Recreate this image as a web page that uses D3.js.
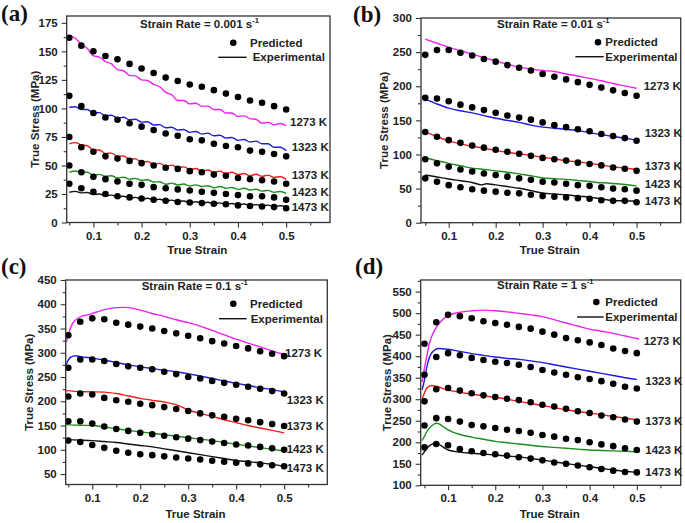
<!DOCTYPE html>
<html><head><meta charset="utf-8">
<script src="https://cdn.jsdelivr.net/npm/d3@7/dist/d3.min.js"></script>
<style>body{margin:0;background:#fff}svg{display:block}</style>
</head><body>
<svg id="chart" width="685" height="523"></svg>
<script>
// ---------------- DATA ----------------
const temps = ["1273 K","1323 K","1373 K","1423 K","1473 K"];
const strainRates = ["0.001","0.01","0.1","1"];
const predStrain = [0.05,0.075,0.1,0.125,0.15,0.175,0.2,0.225,0.25,0.275,0.3,0.325,0.35,0.375,0.4,0.425,0.45,0.475,0.5];
const xTickLabels = [0.1,0.2,0.3,0.4,0.5];

// (a) 0.001 s-1 predicted
const predA1273 = [162,155,150,146,143,139,135,131,127,124,121,119,116,113,110,107,105,102,99];
const predA1323 = [111,102,96,92,90,87,84,81,78,76,73,72,69,67,66,63,62,60,58];
const predA1373 = [75,66,62,58,56,54,52,50,48,47,45,44,42,41,39,38,37,36,34];
const predA1423 = [50,44,40,38,36,34,33,31,30,29,28,27,26,25,24,23,23,22,20];
const predA1473 = [34,30,27,25,23,22,21,20,19,18,17.5,17,16.5,16,15,14.5,14,13.5,12.5];
// (a) experimental (serrated)
const expA1273 = [[0.05,164],[0.0625,161.5],[0.075,156],[0.0875,152.5],[0.1,146],[0.1125,145],[0.125,141],[0.1375,139],[0.15,134],[0.1625,133],[0.175,129],[0.1875,128.5],[0.2,125],[0.2125,124.5],[0.225,121],[0.2375,119],[0.25,114],[0.2625,112],[0.275,107],[0.2875,107],[0.3,104],[0.3125,104.5],[0.325,102],[0.3375,102],[0.35,99],[0.3625,99],[0.375,96],[0.3875,96],[0.4,93],[0.4125,93.5],[0.425,91],[0.4375,90.5],[0.45,87],[0.4625,87.8],[0.475,85.5],[0.4875,86.8],[0.5,85]];
const expA1323 = [[0.05,101],[0.0625,101.5],[0.075,99],[0.0875,99],[0.1,96],[0.1125,96.3],[0.125,93.5],[0.1375,94],[0.15,91.5],[0.1625,92.3],[0.175,90],[0.1875,90.5],[0.2,88],[0.2125,88.3],[0.225,85.5],[0.2375,85.8],[0.25,83],[0.2625,83.5],[0.275,81],[0.2875,81.5],[0.3,79],[0.3125,79.8],[0.325,77.5],[0.3375,78.3],[0.35,76],[0.3625,76.5],[0.375,74],[0.3875,74.5],[0.4,72],[0.4125,72.8],[0.425,70.5],[0.4375,71.3],[0.45,69],[0.4625,69],[0.475,66],[0.4875,66],[0.5,63]];
const expA1373 = [[0.05,69],[0.0625,70],[0.075,68],[0.0875,67.3],[0.1,63.5],[0.1125,63.5],[0.125,60.5],[0.1375,60.8],[0.15,58],[0.1625,58.3],[0.175,55.5],[0.1875,55.8],[0.2,53],[0.2125,53.5],[0.225,51],[0.2375,51.8],[0.25,49.5],[0.2625,50.3],[0.275,48],[0.2875,48.8],[0.3,46.5],[0.3125,47.3],[0.325,45],[0.3375,46],[0.35,44],[0.3625,45],[0.375,43],[0.3875,44],[0.4,42],[0.4125,43],[0.425,41],[0.4375,42.3],[0.45,40.5],[0.4625,41.5],[0.475,39.5],[0.4875,40.3],[0.5,38]];
const expA1423 = [[0.05,44],[0.0625,45.2],[0.075,44],[0.0875,44],[0.1,41.5],[0.1125,42.2],[0.125,40.5],[0.1375,41],[0.15,39],[0.1625,39.7],[0.175,38],[0.1875,38.7],[0.2,37],[0.2125,37.5],[0.225,35.5],[0.2375,35.7],[0.25,33.5],[0.2625,34.5],[0.275,33],[0.2875,33.7],[0.3,32],[0.3125,33],[0.325,31.5],[0.3375,32.2],[0.35,30.5],[0.3625,31.5],[0.375,30],[0.3875,30.7],[0.4,29],[0.4125,30],[0.425,28.5],[0.4375,29.2],[0.45,27.5],[0.4625,28.2],[0.475,26.5],[0.4875,27.2],[0.5,25.5]];
const expA1473 = [[0.05,26.5],[0.0625,27.3],[0.075,26],[0.0875,26.3],[0.1,24.5],[0.1125,25],[0.125,23.5],[0.1375,24],[0.15,22.5],[0.1625,23],[0.175,21.5],[0.1875,22],[0.2,20.5],[0.2125,21.2],[0.225,19.8],[0.2375,20.4],[0.25,19],[0.2625,19.6],[0.275,18.3],[0.2875,18.9],[0.3,17.5],[0.3125,18.2],[0.325,17],[0.3375,17.7],[0.35,16.5],[0.3625,17.2],[0.375,16],[0.3875,16.7],[0.4,15.5],[0.4125,16.2],[0.425,15],[0.4375,15.7],[0.45,14.5],[0.4625,15.2],[0.475,14],[0.4875,14.7],[0.5,13.5]];

// (b) 0.01 s-1
const predB1273 = [246,253,253,249,245,240,236,231,227,223,218,214,210,206,202,198,194,190,186];
const predB1323 = [183,182,178,173,169,165,161,157,154,151,147,143,140,137,134,130,127,124,120];
const predB1373 = [133,126,121,117,113,110,107,104,101,98,95,93,91,88,86,84,81,79,76];
const predB1423 = [93,87,82,78,75,72,70,67.5,65,63,60,59,57,55,54,52,50,49,47];
const predB1473 = [65,60,55,52,49,47,45.5,44,43,41,39,38,37,36,35,33,32,32,30];
const expB1273 = [[0.05,269],[0.075,263],[0.1,257],[0.125,252],[0.15,247],[0.175,242],[0.2,237],[0.225,232],[0.25,228],[0.275,225],[0.3,223],[0.325,221.5],[0.35,218],[0.375,215],[0.4,211.5],[0.425,208],[0.45,204],[0.475,200.5],[0.5,197]];
const expB1323 = [[0.05,181],[0.075,174],[0.1,168],[0.125,164],[0.15,161],[0.175,157],[0.2,153],[0.225,150],[0.25,147],[0.275,143],[0.3,140],[0.325,138.5],[0.35,137],[0.375,135],[0.4,132],[0.425,129],[0.45,126.5],[0.475,124],[0.5,121]];
const expB1373 = [[0.05,133],[0.075,126],[0.1,120],[0.125,115.5],[0.15,112],[0.175,109],[0.2,106],[0.225,103],[0.25,101],[0.275,98.5],[0.3,96],[0.325,93.5],[0.35,91],[0.375,89],[0.4,87],[0.425,84.5],[0.45,82],[0.475,80],[0.5,78]];
const expB1423 = [[0.05,95],[0.075,91],[0.1,87],[0.125,83.5],[0.15,80],[0.175,78],[0.2,76],[0.225,74],[0.25,71.5],[0.275,69],[0.3,65.5],[0.325,64.5],[0.35,63.5],[0.375,62],[0.4,60.5],[0.42,58.5],[0.43,58.5],[0.45,57.5],[0.475,56],[0.5,54]];
const expB1473 = [[0.05,70],[0.075,67],[0.1,64],[0.125,61.5],[0.15,59],[0.17,55.5],[0.18,57],[0.2,55.5],[0.225,53],[0.25,50.5],[0.275,47],[0.3,43.5],[0.325,42],[0.35,41],[0.375,39],[0.4,37.5],[0.425,35],[0.45,32.5],[0.475,32],[0.5,31.5]];

// (c) 0.1 s-1
const predC1273 = [336,364,371,369,362,358,354,350,345,340,335,330,324,319,314,309,303,298,293];
const predC1323 = [269,286,286,283,277,272,269,266,261,256,250,247,242,238,234,230,226,221,216];
const predC1373 = [210,216,214,207,202,199,195,192,188,184,180,175,171,168,164,161,157,153,149];
const predC1423 = [159,159,154,148,143,139,135,132,129,126,123,120,117,114,111,109,106,103,100];
const predC1473 = [119,116,110,104,98,94,91,89,86.5,84,82,80,77.5,75.5,73.5,72,70,68,66];
const expC1273 = [[0.046,322],[0.05,337],[0.055,352],[0.06,362],[0.07,371],[0.08,376],[0.09,378],[0.1,381],[0.115,386],[0.125,389],[0.15,393],[0.165,393.5],[0.175,393],[0.2,388],[0.225,381],[0.25,375],[0.275,368],[0.3,362],[0.325,355],[0.35,346],[0.375,337],[0.4,328],[0.425,320],[0.45,312],[0.475,304],[0.5,296],[0.505,294]];
const expC1323 = [[0.045,275],[0.05,285],[0.055,291],[0.065,294],[0.075,292],[0.1,289],[0.125,285],[0.15,280],[0.175,275],[0.2,271],[0.225,267.5],[0.25,264],[0.275,261],[0.3,257],[0.325,252],[0.35,247],[0.375,242],[0.4,237],[0.425,232.5],[0.45,228],[0.475,224],[0.5,219.5]];
const expC1373 = [[0.045,222],[0.075,220],[0.1,219.5],[0.125,219],[0.15,216],[0.175,211],[0.2,206],[0.225,202],[0.25,198.5],[0.275,193],[0.3,182],[0.325,175],[0.35,169],[0.375,162],[0.4,156],[0.425,150],[0.45,145],[0.475,140],[0.5,135]];
const expC1423 = [[0.045,152],[0.075,150.5],[0.1,150],[0.125,147],[0.15,143.5],[0.175,140],[0.2,137],[0.225,134],[0.25,131],[0.275,128],[0.3,125],[0.325,122],[0.35,119],[0.375,115],[0.4,111.5],[0.425,108],[0.45,104.5],[0.475,101],[0.5,97.5]];
const expC1473 = [[0.045,121],[0.075,120],[0.1,119],[0.125,117],[0.15,115],[0.175,112],[0.2,109],[0.225,106],[0.25,102],[0.275,98],[0.3,94],[0.325,90],[0.35,86],[0.375,82],[0.4,78],[0.425,75.5],[0.45,73],[0.475,70],[0.5,66.5]];

// (d) 1 s-1
const predD1273 = [429,479,496,493,488,481,477,473,468,464,457,450,442,437,432,426,418,412,407];
const predD1323 = [357,398,407,402,396,391,387,384,380,375,368,362,357,351,347,342,336,329,325];
const predD1373 = [295,323,326,320,314,309,305,301,298,293,287,283,278,272,268,262,258,253,248];
const predD1423 = [239,256,254,248,240,237,233,229,226,222,217,213,208,205,200,195,191,186,182];
const predD1473 = [188,196,193,184,179,175,172,169,165,162,158,153,150,146,142,138,134,131,130];
const expD1273 = [[0.045,340],[0.05,373],[0.055,400],[0.06,428],[0.065,445],[0.075,467],[0.085,481],[0.1,494],[0.125,502],[0.15,505.5],[0.175,507],[0.2,505.5],[0.225,503],[0.25,499.5],[0.275,496],[0.3,492],[0.325,485],[0.35,477],[0.375,470],[0.4,463],[0.425,458],[0.45,453],[0.475,447],[0.5,441],[0.505,440]];
const expD1323 = [[0.045,322],[0.05,345],[0.055,375],[0.06,396],[0.065,407],[0.07,413],[0.08,418],[0.1,416],[0.125,411],[0.15,406],[0.175,402],[0.2,398],[0.225,395],[0.25,392.5],[0.275,389],[0.3,385],[0.325,380],[0.35,375],[0.375,370],[0.4,365],[0.425,360],[0.45,355],[0.475,350],[0.5,346]];
const expD1373 = [[0.045,300],[0.05,315],[0.055,326],[0.065,332],[0.075,330],[0.1,321],[0.125,316],[0.15,312],[0.175,308],[0.2,304.5],[0.225,300],[0.25,295],[0.275,290],[0.3,285.5],[0.325,280.5],[0.35,275.5],[0.375,271.5],[0.4,268],[0.425,264],[0.45,260],[0.475,256],[0.5,252.5],[0.505,252]];
const expD1423 = [[0.045,204],[0.05,214],[0.055,225],[0.065,238],[0.075,244],[0.08,243],[0.09,236],[0.1,229],[0.125,218],[0.15,212],[0.175,207],[0.2,202],[0.225,199],[0.25,196],[0.275,193],[0.3,190],[0.325,188],[0.35,186],[0.375,184],[0.4,182],[0.425,181],[0.45,180],[0.475,179],[0.5,178]];
const expD1473 = [[0.045,170],[0.05,178],[0.055,186],[0.065,195],[0.075,198],[0.085,192],[0.095,185],[0.1,182],[0.125,177],[0.15,174.5],[0.175,172.5],[0.2,170.5],[0.225,168],[0.25,166],[0.275,162.5],[0.3,158.5],[0.325,154.5],[0.35,150.5],[0.375,147],[0.4,143],[0.425,139.5],[0.45,135.5],[0.475,132.5],[0.5,130]];

// ---------------- LAYOUT / STYLE ----------------
const colors = ["#f020f0","#1c1ce0","#ee1c1c","#1e8c1e","#111111"];
const FONT = "'Liberation Sans', Arial, Helvetica, sans-serif";
const FS = 11.5;

const panels = [
  {letter:"(a)", rate:strainRates[0], box:[66.7,16,330,222.5], xd:[0.0446,0.591], yd:[0,181],
   yMajor:[0,25,50,75,100,125,150,175], yMinor:[12.5,37.5,62.5,87.5,112.5,137.5,162.5],
   pred:[predA1273,predA1323,predA1373,predA1423,predA1473], exp:[expA1273,expA1323,expA1373,expA1423,expA1473],
   letterPos:[1,21], titlePos:[140,28], legDot:[233.3,42.7], legText:250, legLine:[218.3,246.7,57.3], legText2:252.7,
   ylabX:35, xlabY:254,
   tLab:[[290,121.7],[291.7,146.7],[291.7,175],[291.7,191.7],[291.7,207.3]]},
  {letter:"(b)", rate:strainRates[1], box:[421,18,680.7,222.7], xd:[0.041,0.594], yd:[0,300],
   yMajor:[0,50,100,150,200,250,300], yMinor:[25,75,125,175,225,275],
   pred:[predB1273,predB1323,predB1373,predB1423,predB1473], exp:[expB1273,expB1323,expB1373,expB1423,expB1473],
   letterPos:[353,21.5], titlePos:[497,28], legDot:[598,42.3], legText:605.3, legLine:[575.3,603.7,56.7], legText2:605.3,
   ylabX:383.7, xlabY:254,
   tLab:[[643.7,86],[644.7,133.3],[644.7,165.7],[644.7,184],[644.7,201]]},
  {letter:"(c)", rate:strainRates[2], box:[65.7,280,327.3,484.5], xd:[0.0446,0.59], yd:[28.5,450],
   yMajor:[50,100,150,200,250,300,350,400,450], yMinor:[75,125,175,225,275,325,375,425],
   pred:[predC1273,predC1323,predC1373,predC1423,predC1473], exp:[expC1273,expC1323,expC1373,expC1423,expC1473],
   letterPos:[1,274], titlePos:[141.7,290], legDot:[233.3,303.7], legText:250, legLine:[219,246.7,318.7], legText2:250.7,
   ylabX:29.3, xlabY:518,
   tLab:[[285,352.7],[286.7,399.7],[286.7,426.3],[286.7,448.7],[286.7,467.7]]},
  {letter:"(d)", rate:strainRates[3], box:[420.7,280,680.7,485.3], xd:[0.042,0.593], yd:[100,577],
   yMajor:[100,150,200,250,300,350,400,450,500,550], yMinor:[125,175,225,275,325,375,425,475,525,575],
   pred:[predD1273,predD1323,predD1373,predD1423,predD1473], exp:[expD1273,expD1323,expD1373,expD1423,expD1473],
   letterPos:[355,274], titlePos:[497,289], legDot:[596.3,302], legText:605.3, legLine:[577,603.7,317], legText2:605.3,
   ylabX:387, xlabY:518,
   tLab:[[643.7,341],[645.3,381.3],[645.3,421.3],[645.3,450.3],[645.3,472]]}
];

const xMinor = [0.05,0.15,0.25,0.35,0.45,0.55];

const svg = d3.select("#chart");
svg.append("rect").attr("width",685).attr("height",523).attr("fill","#fff");

function styleAxis(g){
  g.select(".domain").remove();
  g.selectAll(".tick line").attr("stroke","#333").attr("stroke-width",1.1);
  g.selectAll(".tick text").attr("font-family",FONT).attr("font-size",FS).attr("font-weight","bold").attr("fill","#222");
}

panels.forEach(p => {
  const [L,T,R,B] = p.box;
  const x = d3.scaleLinear().domain(p.xd).range([L,R]);
  const y = d3.scaleLinear().domain(p.yd).range([B,T]);
  const g = svg.append("g");

  // axes
  g.append("g").attr("transform",`translate(0,${B})`)
    .call(d3.axisBottom(x).tickValues(xTickLabels).tickSize(5).tickPadding(4).tickFormat(d3.format(".1f")))
    .call(styleAxis);
  g.append("g").attr("transform",`translate(0,${B})`)
    .call(d3.axisBottom(x).tickValues(xMinor.filter(v=>v>=p.xd[0]&&v<=p.xd[1])).tickSize(3).tickFormat(""))
    .call(styleAxis);
  g.append("g").attr("transform",`translate(${L},0)`)
    .call(d3.axisLeft(y).tickValues(p.yMajor).tickSize(5).tickPadding(4).tickFormat(d3.format("d")))
    .call(styleAxis);
  g.append("g").attr("transform",`translate(${L},0)`)
    .call(d3.axisLeft(y).tickValues(p.yMinor.filter(v=>v>=p.yd[0]&&v<=p.yd[1])).tickSize(3).tickFormat(""))
    .call(styleAxis);

  // experimental lines
  const line = d3.line().x(d=>x(d[0])).y(d=>y(d[1])).curve(d3.curveMonotoneX);
  p.exp.forEach((s,i) => {
    g.append("path").datum(s).attr("d",line).attr("fill","none")
      .attr("stroke",colors[i]).attr("stroke-width",1.4);
  });
  // predicted points
  p.pred.forEach(s => {
    g.selectAll(null).data(s.map((v,k)=>[predStrain[k],v])).enter().append("circle")
      .attr("cx",d=>x(d[0])).attr("cy",d=>y(d[1])).attr("r",3.3).attr("fill","#000");
  });

  // frame
  g.append("rect").attr("x",L).attr("y",T).attr("width",R-L).attr("height",B-T)
    .attr("fill","none").attr("stroke","#333").attr("stroke-width",1.3);

  // temperature labels
  p.tLab.forEach((pos,i) => {
    g.append("text").attr("x",pos[0]).attr("y",pos[1]).attr("dy","0.36em")
      .attr("font-family",FONT).attr("font-size",FS).attr("font-weight","bold").attr("fill","#222")
      .text(temps[i]);
  });

  // title
  const t = g.append("text").attr("x",p.titlePos[0]).attr("y",p.titlePos[1])
    .attr("font-family",FONT).attr("font-size",FS).attr("font-weight","bold").attr("fill","#222");
  t.append("tspan").text(`Strain Rate = ${p.rate} s`);
  t.append("tspan").attr("dy",-5).attr("font-size",7.5).text("-1");

  // legend
  g.append("circle").attr("cx",p.legDot[0]).attr("cy",p.legDot[1]).attr("r",3.3).attr("fill","#000");
  g.append("text").attr("x",p.legText).attr("y",p.legDot[1]).attr("dy","0.36em")
    .attr("font-family",FONT).attr("font-size",FS).attr("font-weight","bold").attr("fill","#222").text("Predicted");
  g.append("line").attr("x1",p.legLine[0]).attr("x2",p.legLine[1]).attr("y1",p.legLine[2]).attr("y2",p.legLine[2])
    .attr("stroke","#111").attr("stroke-width",1.4);
  g.append("text").attr("x",p.legText2).attr("y",p.legLine[2]).attr("dy","0.36em")
    .attr("font-family",FONT).attr("font-size",FS).attr("font-weight","bold").attr("fill","#222").text("Experimental");

  // axis titles
  g.append("text").attr("x",(L+R)/2 - 1).attr("y",p.xlabY).attr("text-anchor","middle")
    .attr("font-family",FONT).attr("font-size",FS).attr("font-weight","bold").attr("fill","#222").text("True Strain");
  g.append("text").attr("transform",`translate(${p.ylabX},${(T+B)/2}) rotate(-90)`).attr("text-anchor","middle")
    .attr("dy","0.36em").attr("font-family",FONT).attr("font-size",FS).attr("font-weight","bold").attr("fill","#222")
    .text("True Stress (MPa)");

  // panel letter
  g.append("text").attr("x",p.letterPos[0]).attr("y",p.letterPos[1])
    .attr("font-family","'Liberation Serif', 'Times New Roman', serif").attr("font-size",23).attr("font-weight","bold")
    .attr("fill","#111").text(p.letter);
});
</script>
</body></html>
